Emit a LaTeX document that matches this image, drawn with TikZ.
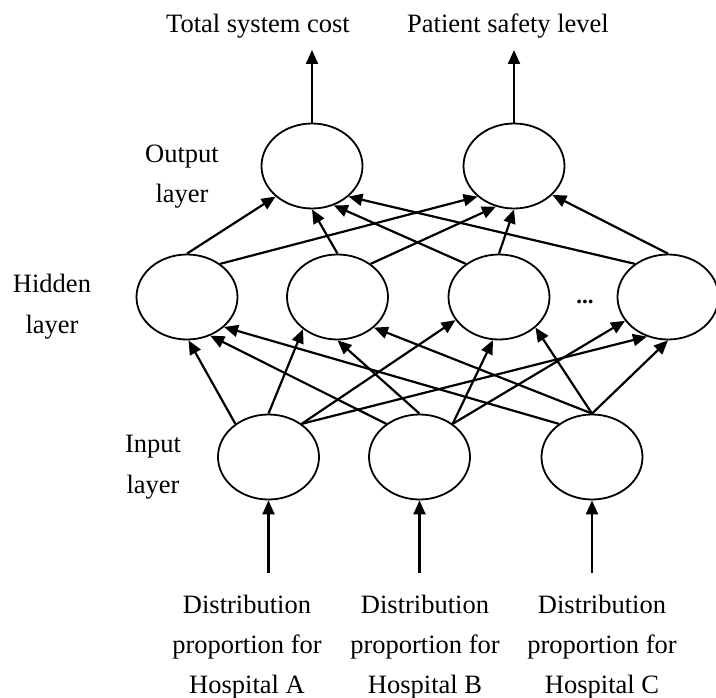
\documentclass[tikz,border=0pt]{standalone}
\usepackage{fontspec}
\setmainfont{Liberation Serif}
\usetikzlibrary{shapes.geometric,arrows.meta}
\begin{document}
\begin{tikzpicture}[x=1pt,y=-1pt,
  neuron/.style={ellipse,draw,line width=1.8pt,minimum width=101pt,minimum height=85pt,inner sep=0pt},
  conn/.style={line width=2.2pt,-{Triangle[length=14pt,width=12pt]}},
  lbl/.style={font=\fontsize{26.5}{40}\selectfont,inner sep=0pt,anchor=base}]
\useasboundingbox (0,0) rectangle (716,698);
% nodes
\node[neuron] (O1) at (312,166) {};
\node[neuron] (O2) at (514,166) {};
\node[neuron] (H1) at (187,297) {};
\node[neuron] (H2) at (337.5,297) {};
\node[neuron] (H3) at (499,297) {};
\node[neuron] (H4) at (668,297) {};
\node[neuron] (I1) at (268.5,457) {};
\node[neuron] (I2) at (419.5,457) {};
\node[neuron] (I3) at (592,457) {};
\node[inner sep=0pt,anchor=base,font=\fontsize{23}{24}\selectfont\bfseries] (dots) at (585,304) {...};
% output arrows
\coordinate (t1) at (312,50);
\coordinate (t2) at (514,50);
\draw[conn] (O1.north) -- (t1);
\draw[conn] (O2.north) -- (t2);
% hidden -> output
\draw[conn] (H1.north) -- (O1.220);
\draw[conn] (H2.north) -- (O1.270);
\draw[conn] (H3.135) -- (O1.299);
\draw[conn] (H4.135) -- (O1.320);
\draw[conn] (H1.45) -- (O2.220);
\draw[conn] (H2.45) -- (O2.246);
\draw[conn] (H3.north) -- (O2.270);
\draw[conn] (H4.north) -- (O2.323);
% input -> hidden
\draw[conn] (I1.135) -- (H1.272);
\draw[conn] (I2.135) -- (H1.301);
\draw[conn] (I3.135) -- (H1.321);
\draw[conn] (I1.north) -- (H2.223);
\draw[conn] (I2.north) -- (H2.270);
\draw[conn] (I3.north) -- (H2.320);
\draw[conn] (I1.45) -- (H3.208);
\draw[conn] (I2.45) -- (H3.262);
\draw[conn] (I3.north) -- (H3.320);
\draw[conn] (I2.45) -- (H4.209);
\draw[conn] (I1.45) -- (H4.242);
\draw[conn] (I3.north) -- (H4.270);
% input arrows
\coordinate (b1) at (268.5,573);
\coordinate (b2) at (419.5,573);
\coordinate (b3) at (592,573);
\draw[conn] (b1) -- (I1.south);
\draw[conn] (b2) -- (I2.south);
\draw[conn] (b3) -- (I3.south);
% labels
\node[lbl] (tc) at (258,33) {Total system cost};
\node[lbl] (ps) at (508,33) {Patient safety level};
\node[lbl] (ol1) at (182,163) {Output};
\node[lbl] (ol2) at (182,203) {layer};
\node[lbl] (hl1) at (52,293) {Hidden};
\node[lbl] (hl2) at (52,334) {layer};
\node[lbl] (il1) at (153,452) {Input};
\node[lbl] (il2) at (153,493) {layer};
\node[lbl] (da1) at (247,613) {Distribution};
\node[lbl] (da2) at (247,653) {proportion for};
\node[lbl] (da3) at (247,693) {Hospital A};
\node[lbl] (db1) at (425,613) {Distribution};
\node[lbl] (db2) at (425,653) {proportion for};
\node[lbl] (db3) at (425,693) {Hospital B};
\node[lbl] (dc1) at (602,613) {Distribution};
\node[lbl] (dc2) at (602,653) {proportion for};
\node[lbl] (dc3) at (602,693) {Hospital C};
\end{tikzpicture}
\end{document}
